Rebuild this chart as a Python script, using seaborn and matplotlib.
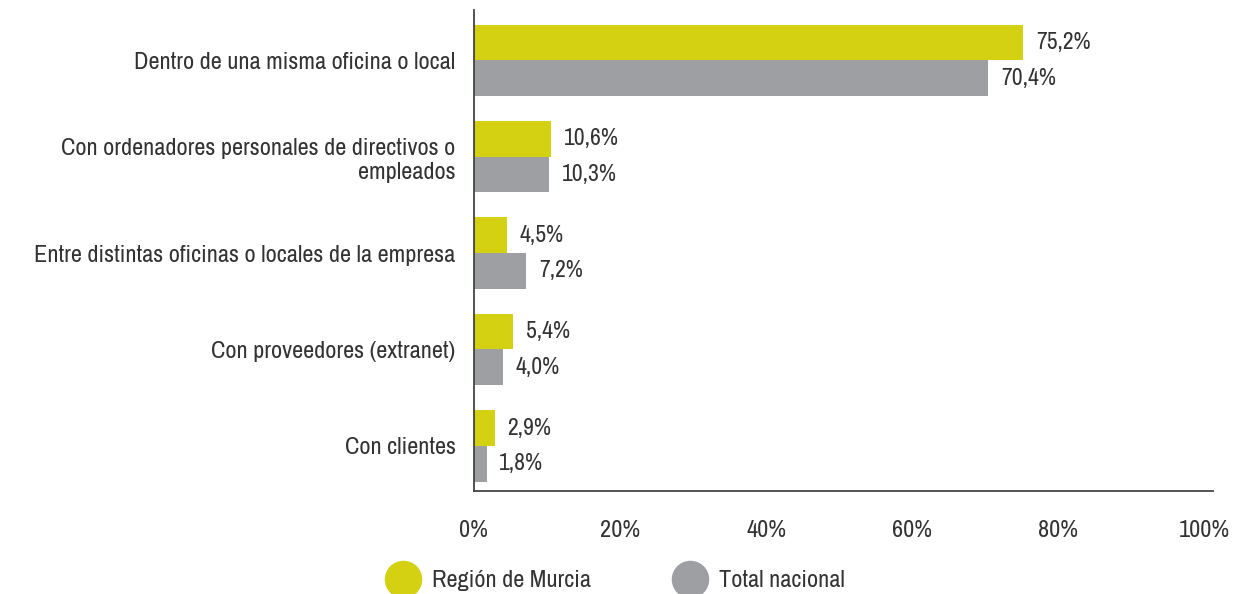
import pandas as pd
import matplotlib
matplotlib.use('Agg')
import matplotlib.pyplot as plt
from matplotlib import font_manager
from matplotlib.lines import Line2D
import seaborn as sns

# datos
categorias = [
    "Dentro de una misma oficina o local",
    "Con ordenadores personales de directivos o\nempleados",
    "Entre distintas oficinas o locales de la empresa",
    "Con proveedores (extranet)",
    "Con clientes",
]
murcia = [75.2, 10.6, 4.5, 5.4, 2.9]
nacional = [70.4, 10.3, 7.2, 4.0, 1.8]
series = ["Región de Murcia", "Total nacional"]
colores = ["#d4d012", "#9e9fa3"]
ticks_x = [0, 20, 40, 60, 80, 100]

df = pd.DataFrame({
    "categoria": categorias * 2,
    "valor": murcia + nacional,
    "serie": [series[0]] * len(categorias) + [series[1]] * len(categorias),
})

sns.set_style("white")

# buscar una fuente estrecha instalada
nombres = sorted({f.name for f in font_manager.fontManager.ttflist})
estrechas = [n for n in nombres if "Narrow" in n or "Condensed" in n]
if estrechas:
    plt.rcParams['font.family'] = [estrechas[0], 'DejaVu Sans']
else:
    plt.rcParams['font.family'] = ['DejaVu Sans']
    plt.rcParams['font.stretch'] = 'condensed'
texto = "#333333"
tam = 17.5

fig = plt.figure(figsize=(12.4, 5.94), dpi=100)
ax = fig.add_axes([0.382, 0.173, 0.596, 0.81])

sns.barplot(data=df, x="valor", y="categoria", hue="serie", orient="h",
            palette=colores, width=0.74, ax=ax, legend=False, saturation=1,
            linewidth=0)

for cont, vals in zip(ax.containers, [murcia, nacional]):
    ax.bar_label(cont, labels=[f"{v:.1f}%".replace(".", ",") for v in vals],
                 padding=9, fontsize=17, color=texto)

ax.set_xlim(0, 101.1)
ax.set_ylim(4.47, -0.52)
ax.set_xticks(ticks_x)
ax.set_xticklabels([f"{t}%" for t in ticks_x])
ax.set_xlabel("")
ax.set_ylabel("")
ax.tick_params(axis='x', length=0, pad=21, labelsize=tam, colors=texto)
ax.tick_params(axis='y', length=0, pad=13, labelsize=tam, colors=texto)
for lbl in ax.get_yticklabels():
    lbl.set_horizontalalignment('right')
    lbl.set_multialignment('right')

sns.despine(ax=ax, top=True, right=True)
ax.spines['left'].set_color("#444444")
ax.spines['bottom'].set_color("#444444")
ax.spines['left'].set_linewidth(1.3)
ax.spines['bottom'].set_linewidth(1.3)

handles = [Line2D([0], [0], marker='o', linestyle='', markersize=26,
                  markerfacecolor=c, markeredgecolor=c) for c in colores]
fig.legend(handles, series, loc='center', bbox_to_anchor=(0.4935, 0.022),
           ncol=2, frameon=False, fontsize=tam, handletextpad=0.2,
           columnspacing=3.05, labelcolor=texto)

fig.savefig("out.png", dpi=100)
